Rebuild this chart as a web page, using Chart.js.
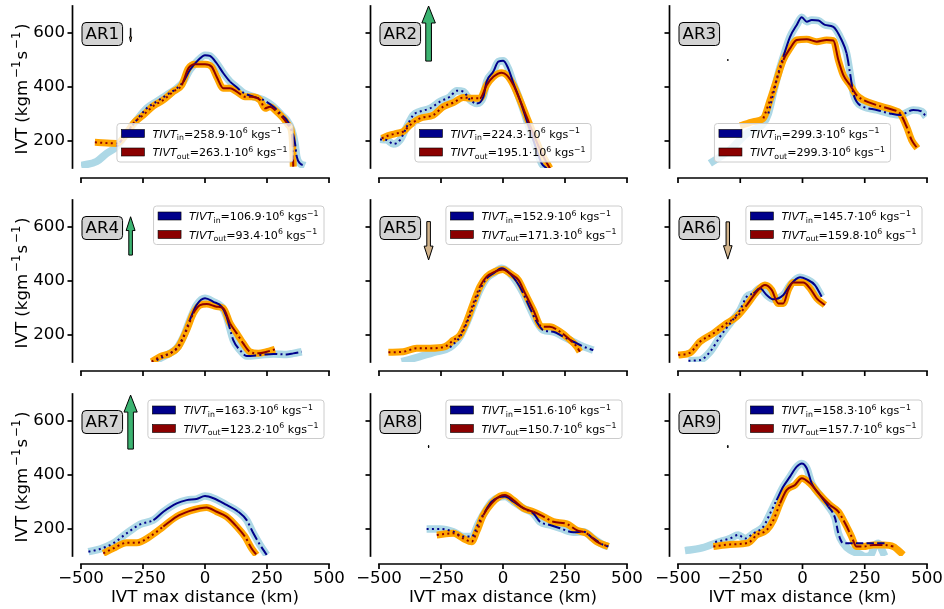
<!DOCTYPE html>
<html>
<head>
<meta charset="utf-8">
<script src="https://cdn.jsdelivr.net/npm/chart.js@4.4.0/dist/chart.umd.min.js"></script>
<style>
  body { margin: 0; background: #fff; }
  #fig { position: relative; width: 944px; height: 609px; }
  #fig canvas { position: absolute; left: 0; top: 0; }
</style>
</head>
<body>
<div id="fig"></div>
<script>
// ---- profile data: distance from IVT max (km) and IVT (kg m-1 s-1) ----
const ar1InX  = [-500, -437, -397, -356, -316, -275, -235, -195, -155, -114, -87, -61, -27, 0, 20, 47, 74, 101, 128, 154, 195, 235, 276, 309, 329, 350, 363, 370, 383, 403];
const ar1InY  = [109, 124, 154, 179, 228, 278, 321, 346, 370, 395, 420, 463, 500, 518, 515, 488, 451, 420, 399, 379, 364, 352, 327, 296, 278, 241, 191, 142, 117, 109];
const ar1OutX = [-444, -356, -316, -289, -249, -208, -168, -128, -94, -67, -40, 0, 27, 47, 74, 101, 128, 161, 188, 222, 242, 262, 289, 316, 336, 350, 354, 356];
const ar1OutY = [195, 191, 228, 265, 296, 330, 352, 383, 407, 469, 484, 484, 475, 438, 395, 395, 383, 364, 364, 352, 321, 327, 309, 284, 259, 228, 167, 105];

const ar2InX  = [-496, -469, -442, -415, -388, -362, -335, -294, -254, -214, -187, -160, -133, -106, -79, -66, -39, -19, 1, 21, 42, 68, 95, 122, 156, 176];
const ar2InY  = [206, 204, 189, 204, 253, 296, 309, 321, 346, 364, 386, 383, 352, 339, 364, 420, 457, 494, 497, 469, 414, 352, 278, 204, 117, 99];
const ar2OutX = [-489, -456, -429, -402, -375, -335, -281, -241, -200, -160, -120, -93, -66, -39, -5, 15, 42, 68, 95, 122, 156, 189];
const ar2OutY = [210, 222, 228, 235, 259, 284, 296, 327, 342, 361, 358, 358, 407, 438, 453, 444, 407, 352, 290, 228, 154, 99];

const ar3InX  = [-372, -291, -224, -157, -137, -117, -97, -77, -50, -23, -3, 17, 37, 64, 90, 124, 157, 177, 191, 204, 217, 244, 298, 351, 392, 445, 479, 496];
const ar3InY  = [117, 167, 228, 265, 302, 377, 451, 512, 586, 630, 658, 642, 648, 646, 630, 623, 574, 525, 451, 377, 346, 327, 315, 302, 296, 315, 309, 290];
const ar3OutX = [-251, -197, -157, -130, -104, -77, -50, -23, 17, 57, 97, 124, 144, 164, 191, 217, 244, 298, 365, 392, 418, 438, 461];
const ar3OutY = [256, 272, 284, 352, 426, 500, 543, 574, 577, 568, 574, 572, 500, 444, 407, 370, 352, 333, 315, 302, 253, 204, 173];

const ar4InX  = [-195, -155, -114, -87, -61, -34, 0, 34, 67, 87, 114, 141, 168, 222, 276, 329, 356, 390];
const ar4InY  = [107, 126, 151, 194, 256, 311, 336, 323, 305, 268, 181, 144, 122, 126, 130, 128, 132, 138];
const ar4OutX = [-215, -181, -141, -107, -74, -47, -20, 7, 47, 74, 101, 128, 154, 181, 215, 249, 282];
const ar4OutY = [101, 120, 132, 157, 218, 280, 311, 315, 305, 299, 243, 206, 169, 138, 132, 138, 147];

const ar5InX  = [-409, -335, -268, -214, -173, -147, -120, -93, -66, -39, -5, 28, 55, 82, 109, 136, 162, 203, 243, 284, 324, 364];
const ar5InY  = [101, 120, 138, 154, 194, 243, 305, 367, 410, 428, 447, 428, 397, 354, 299, 249, 218, 212, 194, 175, 157, 144];
const ar5OutX = [-462, -402, -348, -294, -234, -200, -173, -147, -120, -93, -66, -32, -1, 28, 62, 89, 122, 156, 189, 230, 263, 297, 310];
const ar5OutY = [136, 138, 151, 151, 157, 181, 200, 249, 317, 379, 416, 435, 443, 428, 404, 354, 293, 231, 231, 212, 188, 157, 138];

const ar6InX  = [-458, -412, -371, -331, -291, -251, -224, -197, -171, -144, -117, -77, -50, -10, 17, 50, 77];
const ar6InY  = [105, 107, 138, 194, 243, 292, 342, 354, 373, 348, 332, 348, 385, 414, 406, 385, 342];
const ar6OutX = [-499, -452, -412, -358, -305, -264, -224, -184, -151, -124, -97, -77, -57, -37, 3, 30, 57, 90];
const ar6OutY = [126, 134, 175, 206, 243, 268, 311, 360, 385, 367, 317, 317, 367, 394, 394, 373, 336, 311];

const ar7InX  = [-470, -423, -370, -316, -262, -208, -168, -114, -74, -34, 0, 34, 87, 134, 168, 195, 222, 249];
const ar7InY  = [116, 126, 147, 184, 217, 233, 264, 295, 307, 311, 322, 314, 289, 264, 233, 184, 141, 104];
const ar7OutX = [-410, -370, -316, -275, -222, -168, -114, -61, -20, 7, 47, 87, 128, 161, 188, 208];
const ar7OutY = [110, 128, 149, 149, 172, 209, 246, 267, 277, 280, 264, 246, 209, 172, 128, 104];

const ar8InX  = [-308, -254, -200, -160, -126, -99, -73, -46, -19, 8, 42, 82, 122, 149, 189, 230, 284, 324, 364, 405, 425];
const ar8InY  = [200, 200, 190, 172, 172, 221, 264, 301, 317, 320, 301, 277, 258, 227, 215, 203, 188, 190, 165, 141, 135];
const ar8OutX = [-267, -200, -160, -126, -106, -79, -46, -12, 8, 42, 82, 122, 163, 203, 257, 297, 337, 378, 425];
const ar8OutY = [178, 184, 165, 153, 190, 252, 295, 322, 326, 307, 277, 264, 246, 227, 219, 196, 184, 153, 135];

const ar9InX  = [-351, -291, -258, -231, -197, -157, -130, -104, -77, -50, -23, -3, 17, 37, 70, 104, 131, 144, 164, 200, 250, 300, 338];
const ar9InY  = [152, 165, 178, 165, 184, 209, 258, 307, 357, 394, 431, 443, 425, 369, 326, 283, 240, 184, 147, 147, 147, 147, 147];
const ar9InHaloX = [-472, -412, -345, -291, -258, -231, -197, -157, -130, -104, -77, -50, -23, -3, 17, 37, 70, 104, 131, 144, 164, 191, 231, 251, 275, 291, 305, 318, 330];
const ar9InHaloY = [120, 128, 149, 165, 178, 165, 184, 209, 258, 307, 357, 394, 431, 443, 425, 369, 326, 283, 240, 184, 147, 122, 107, 98, 105, 140, 147, 125, 100];
const ar9OutX = [-358, -291, -218, -184, -144, -117, -90, -64, -30, -3, 30, 70, 110, 144, 171, 197, 217, 244, 284, 325, 365, 405];
const ar9OutY = [135, 143, 149, 178, 196, 233, 295, 344, 363, 388, 369, 326, 289, 264, 221, 172, 135, 135, 141, 141, 135, 104];

// panel names, transport totals (10^6 kg s-1) and the trend arrows (IVT units)
const arNames   = ['AR1', 'AR2', 'AR3', 'AR4', 'AR5', 'AR6', 'AR7', 'AR8', 'AR9'];
const tivtIn    = [258.9, 224.3, 299.3, 106.9, 152.9, 145.7, 163.3, 151.6, 158.3];
const tivtOut   = [263.1, 195.1, 299.3, 93.4, 171.3, 159.8, 123.2, 150.7, 157.7];
const arrowX    = -300;
const arrowFrom = [618, 496, 500, 496, 620, 619, 496, 500, 500];
const arrowTo   = [567, 700, 500, 638, 478, 481, 696, 510, 510];

// part of each profile that carries the thin line on top of its halo
const inLineFrom  = [-370, -500, -150, -500, -214, -500, -500, -500, -500];
const outLineFrom = [-500, -500, -160, -500, -500, -500, -500, -500, -500];
const outLineTo   = [500, 500, 500, 500, 500, 500, 500, 500, 370];

const xTicks = [-500, -250, 0, 250, 500];
const yTicks = [200, 400, 600];

// ---- styling ----
const FONT = '"DejaVu Sans", sans-serif';
const dashes = { dotted: [2, 3.3], solid: [], dashdot: [12.8, 3.2, 2, 3.2], dashed: [7.4, 3.2] };
// dotted left of a, solid between a and b, tail style right of b
const inSegs  = [[-80, 110, 'dashdot'], [-100, 999, 'solid'], [-70, 175, 'dashdot'], [-50, 85, 'dashdot'], [-66, 50, 'dashdot'],
                 [-205, 999, 'solid'], [-190, 135, 'dashdot'], [-66, 50, 'dashdot'], [-100, 110, 'dashed']];
const outSegs = [[-90, 110, 'dashdot'], [-95, 999, 'solid'], [-85, 180, 'dashdot'], [-45, 95, 'dashdot'], [-95, 110, 'dashdot'],
                 [-205, 999, 'solid'], [-170, 135, 'dashdot'], [-80, 120, 'dashdot'], [-90, 110, 'dashdot']];

const colLeft = [81, 379, 678];
const colW = [248, 248, 249];
const rowTop = [6, 200, 394];
const rowH = 162;
const xSpineGap = [10, 9, 8];
const ySpineGap = 8.5;

Chart.defaults.font.family = FONT;
Chart.defaults.color = '#000';

const zip = (xs, ys) => xs.map((x, k) => ({ x: x, y: ys[k] }));
const fmtKm = v => (v < 0 ? '\u2212' : '') + Math.abs(v);

const panels = [
  [ar1InX, ar1InY, ar1OutX, ar1OutY], [ar2InX, ar2InY, ar2OutX, ar2OutY], [ar3InX, ar3InY, ar3OutX, ar3OutY],
  [ar4InX, ar4InY, ar4OutX, ar4OutY], [ar5InX, ar5InY, ar5OutX, ar5OutY], [ar6InX, ar6InY, ar6OutX, ar6OutY],
  [ar7InX, ar7InY, ar7OutX, ar7OutY], [ar8InX, ar8InY, ar8OutX, ar8OutY], [ar9InX, ar9InY, ar9OutX, ar9OutY]
];

function segDash(points, seg) {
  return ctx => {
    const x = (points[ctx.p0DataIndex].x + points[ctx.p1DataIndex].x) / 2;
    if (x < seg[0]) return dashes.dotted;
    if (x <= seg[1]) return dashes.solid;
    return dashes[seg[2]];
  };
}

function roundRect(ctx, x, y, w, h, r) {
  ctx.beginPath();
  ctx.moveTo(x + r, y);
  ctx.arcTo(x + w, y, x + w, y + h, r);
  ctx.arcTo(x + w, y + h, x, y + h, r);
  ctx.arcTo(x, y + h, x, y, r);
  ctx.arcTo(x, y, x + w, y, r);
  ctx.closePath();
}

// legend label: TIVT_sub = v . 10^6 kgs^-1
function tivtPieces(sub, v) {
  return [
    { t: 'TIVT', f: 'italic 11.1px ' + FONT, dy: 0 },
    { t: sub, f: '7.8px ' + FONT, dy: 2.6 },
    { t: '=' + v.toFixed(1) + '\u00b710', f: '11.1px ' + FONT, dy: 0 },
    { t: '6', f: '7.8px ' + FONT, dy: -4.4 },
    { t: ' kgs', f: '11.1px ' + FONT, dy: 0 },
    { t: '\u22121', f: '7.8px ' + FONT, dy: -4.4 }
  ];
}

// y axis label: IVT (kgm^-1 s^-1)
const yTitlePieces = [
  { t: 'IVT (kgm', f: '16.67px ' + FONT, dy: 0, pad: 0 },
  { t: '\u22121', f: '11.7px ' + FONT, dy: -6.8, pad: 2 },
  { t: 's', f: '16.67px ' + FONT, dy: 0, pad: 1 },
  { t: '\u22121', f: '11.7px ' + FONT, dy: -6.8, pad: 2 },
  { t: ')', f: '16.67px ' + FONT, dy: 0, pad: 1.5 }
];

function piecesWidth(ctx, pcs) {
  let w = 0;
  pcs.forEach(p => { ctx.font = p.f; w += ctx.measureText(p.t).width + (p.pad || 0); });
  return w;
}

function drawPieces(ctx, pcs, x, yBase) {
  ctx.fillStyle = '#000';
  ctx.textBaseline = 'alphabetic';
  ctx.textAlign = 'left';
  pcs.forEach(p => {
    ctx.font = p.f;
    x += p.pad || 0;
    ctx.fillText(p.t, x, yBase + p.dy);
    x += ctx.measureText(p.t).width;
  });
}

function drawArrow(ctx, x, yb, yt, color) {
  const len = Math.abs(yt - yb);
  if (len < 1) {
    ctx.fillStyle = '#000';
    ctx.fillRect(x - 0.8, yb - 0.8, 1.6, 1.6);
    return;
  }
  const dir = Math.sign(yt - yb);
  const sw = Math.max(0, 0.125 * len - 1.2), hw = 2.2 * sw + 1, hl = Math.min(17, 0.36 * len);
  const yh = yt - dir * hl;
  ctx.beginPath();
  ctx.moveTo(x - sw / 2, yb);
  ctx.lineTo(x - sw / 2, yh);
  ctx.lineTo(x - hw / 2, yh);
  ctx.lineTo(x, yt);
  ctx.lineTo(x + hw / 2, yh);
  ctx.lineTo(x + sw / 2, yh);
  ctx.lineTo(x + sw / 2, yb);
  ctx.closePath();
  ctx.fillStyle = color;
  ctx.fill();
  ctx.lineWidth = 1;
  ctx.strokeStyle = '#000';
  ctx.stroke();
}

// offset spines, axis label, AR tag, trend arrow and legend for one panel
function decor(i, r, c) {
  return {
    id: 'decor' + i,
    afterDraw(chart) {
      const ctx = chart.ctx;
      const xs = chart.scales.x, ys = chart.scales.y;
      const { left, right, top, bottom } = chart.chartArea;
      ctx.save();
      ctx.strokeStyle = '#000';
      ctx.lineWidth = 1.7;
      ctx.lineCap = 'butt';

      const yS = bottom + xSpineGap[r];
      ctx.beginPath();
      ctx.moveTo(left - 0.85, yS);
      ctx.lineTo(right + 0.85, yS);
      ctx.stroke();
      xTicks.forEach(v => {
        const px = xs.getPixelForValue(v);
        ctx.beginPath(); ctx.moveTo(px, yS); ctx.lineTo(px, yS + 5); ctx.stroke();
      });

      const xS = left - ySpineGap;
      ctx.beginPath();
      ctx.moveTo(xS, top - 0.85);
      ctx.lineTo(xS, bottom + 0.85);
      ctx.stroke();
      yTicks.forEach(v => {
        const py = ys.getPixelForValue(v);
        ctx.beginPath(); ctx.moveTo(xS, py); ctx.lineTo(xS - 5, py); ctx.stroke();
      });

      if (c === 0) {
        ctx.save();
        ctx.translate(26.7, (top + bottom) / 2 + 2);
        ctx.rotate(-Math.PI / 2);
        drawPieces(ctx, yTitlePieces, -piecesWidth(ctx, yTitlePieces) / 2, 0);
        ctx.restore();
      }

      // AR tag
      const ty = ys.getPixelForValue(600);
      ctx.font = '16.67px ' + FONT;
      const tw = ctx.measureText(arNames[i]).width;
      roundRect(ctx, left + 1, ty - 10.5, tw + 7, 23, 4);
      ctx.fillStyle = '#d3d3d3';
      ctx.fill();
      ctx.lineWidth = 1;
      ctx.strokeStyle = '#000';
      ctx.stroke();
      ctx.fillStyle = '#000';
      ctx.textBaseline = 'alphabetic';
      ctx.textAlign = 'left';
      ctx.fillText(arNames[i], left + 4.5, ty + 6.1);

      // trend arrow
      const ax = xs.getPixelForValue(arrowX);
      const up = arrowTo[i] >= arrowFrom[i];
      drawArrow(ctx, ax, ys.getPixelForValue(arrowFrom[i]), ys.getPixelForValue(arrowTo[i]), up ? '#3cb371' : '#d2b48c');

      // legend
      const p1 = tivtPieces('in', tivtIn[i]);
      const p2 = tivtPieces('out', tivtOut[i]);
      const textW = Math.max(piecesWidth(ctx, p1), piecesWidth(ctx, p2));
      const lw = 4 + 23 + 8 + textW + 6, lh = 38.5;
      let lx, ly;
      if (r === 0) { lx = (left + right) / 2 - lw / 2; ly = bottom - 6 - lh; }
      else { lx = right - 5 - lw; ly = top + 6; }
      roundRect(ctx, lx, ly, lw, lh, 3);
      ctx.fillStyle = 'rgba(255,255,255,0.8)';
      ctx.fill();
      ctx.strokeStyle = '#cccccc';
      ctx.lineWidth = 1;
      ctx.stroke();
      [[p1, '#00008b', 10], [p2, '#8b0000', 28.5]].forEach(([pcs, col, dy]) => {
        const cy = ly + dy;
        ctx.fillStyle = col;
        ctx.fillRect(lx + 4.5, cy - 4, 23, 8);
        ctx.strokeStyle = '#000';
        ctx.lineWidth = 0.6;
        ctx.strokeRect(lx + 4.5, cy - 4, 23, 8);
        drawPieces(ctx, pcs, lx + 35.5, cy + 4);
      });
      ctx.restore();
    }
  };
}

const fig = document.getElementById('fig');

panels.forEach((arr, i) => {
  const r = Math.floor(i / 3), c = i % 3;
  const L = colLeft[c], R = L + colW[c], T = rowTop[r], B = T + rowH;
  const yW = c === 0 ? L - 11.5 : 30;
  const xH = r === 2 ? 608 - B : 20;

  const inHalo = i === 8 ? zip(ar9InHaloX, ar9InHaloY) : zip(arr[0], arr[1]);
  const inLine = zip(arr[0], arr[1]).filter(p => p.x >= inLineFrom[i]);
  const outHalo = zip(arr[2], arr[3]);
  const outLine = outHalo.filter(p => p.x >= outLineFrom[i] && p.x <= outLineTo[i]);

  const base = {
    pointRadius: 0, fill: false, clip: 0,
    cubicInterpolationMode: 'monotone',
    borderCapStyle: 'butt', borderJoinStyle: 'round'
  };

  const cv = document.createElement('canvas');
  cv.width = 944;
  cv.height = 609;
  fig.appendChild(cv);

  new Chart(cv, {
    type: 'line',
    data: {
      datasets: [
        Object.assign({ data: inHalo, borderColor: '#add8e6', borderWidth: 7.5, order: 3 }, base),
        Object.assign({ data: outHalo, borderColor: '#ffa500', borderWidth: 7, order: 2 }, base),
        Object.assign({ data: inLine, borderColor: '#00008b', borderWidth: 2, order: 1,
                        segment: { borderDash: segDash(inLine, inSegs[i]) } }, base),
        Object.assign({ data: outLine, borderColor: '#8b0000', borderWidth: 2, order: 0,
                        segment: { borderDash: segDash(outLine, outSegs[i]) } }, base)
      ]
    },
    options: {
      responsive: false,
      animation: false,
      events: [],
      layout: { padding: { left: L - yW, right: 944 - R, top: T, bottom: 609 - B - xH } },
      plugins: { legend: { display: false }, tooltip: { enabled: false } },
      scales: {
        x: {
          type: 'linear', min: -500, max: 500,
          afterBuildTicks: s => { s.ticks = xTicks.map(v => ({ value: v })); },
          afterFit: s => { s.height = xH; s.paddingLeft = 0; s.paddingRight = 0; },
          grid: { display: false, drawTicks: false },
          border: { display: false },
          ticks: { display: r === 2, padding: 13, maxRotation: 0, autoSkip: false,
                   font: { size: 16.67 }, callback: v => fmtKm(v) },
          title: { display: r === 2, text: 'IVT max distance (km)', padding: 0, font: { size: 16.67 } }
        },
        y: {
          type: 'linear', min: 100, max: 700,
          afterBuildTicks: s => { s.ticks = yTicks.map(v => ({ value: v })); },
          afterFit: s => { s.width = yW; s.paddingTop = 0; s.paddingBottom = 0; },
          grid: { display: false, drawTicks: false },
          border: { display: false },
          ticks: { display: c === 0, padding: 16, font: { size: 16.67 } }
        }
      }
    },
    plugins: [decor(i, r, c)]
  });
});
</script>
</body>
</html>
